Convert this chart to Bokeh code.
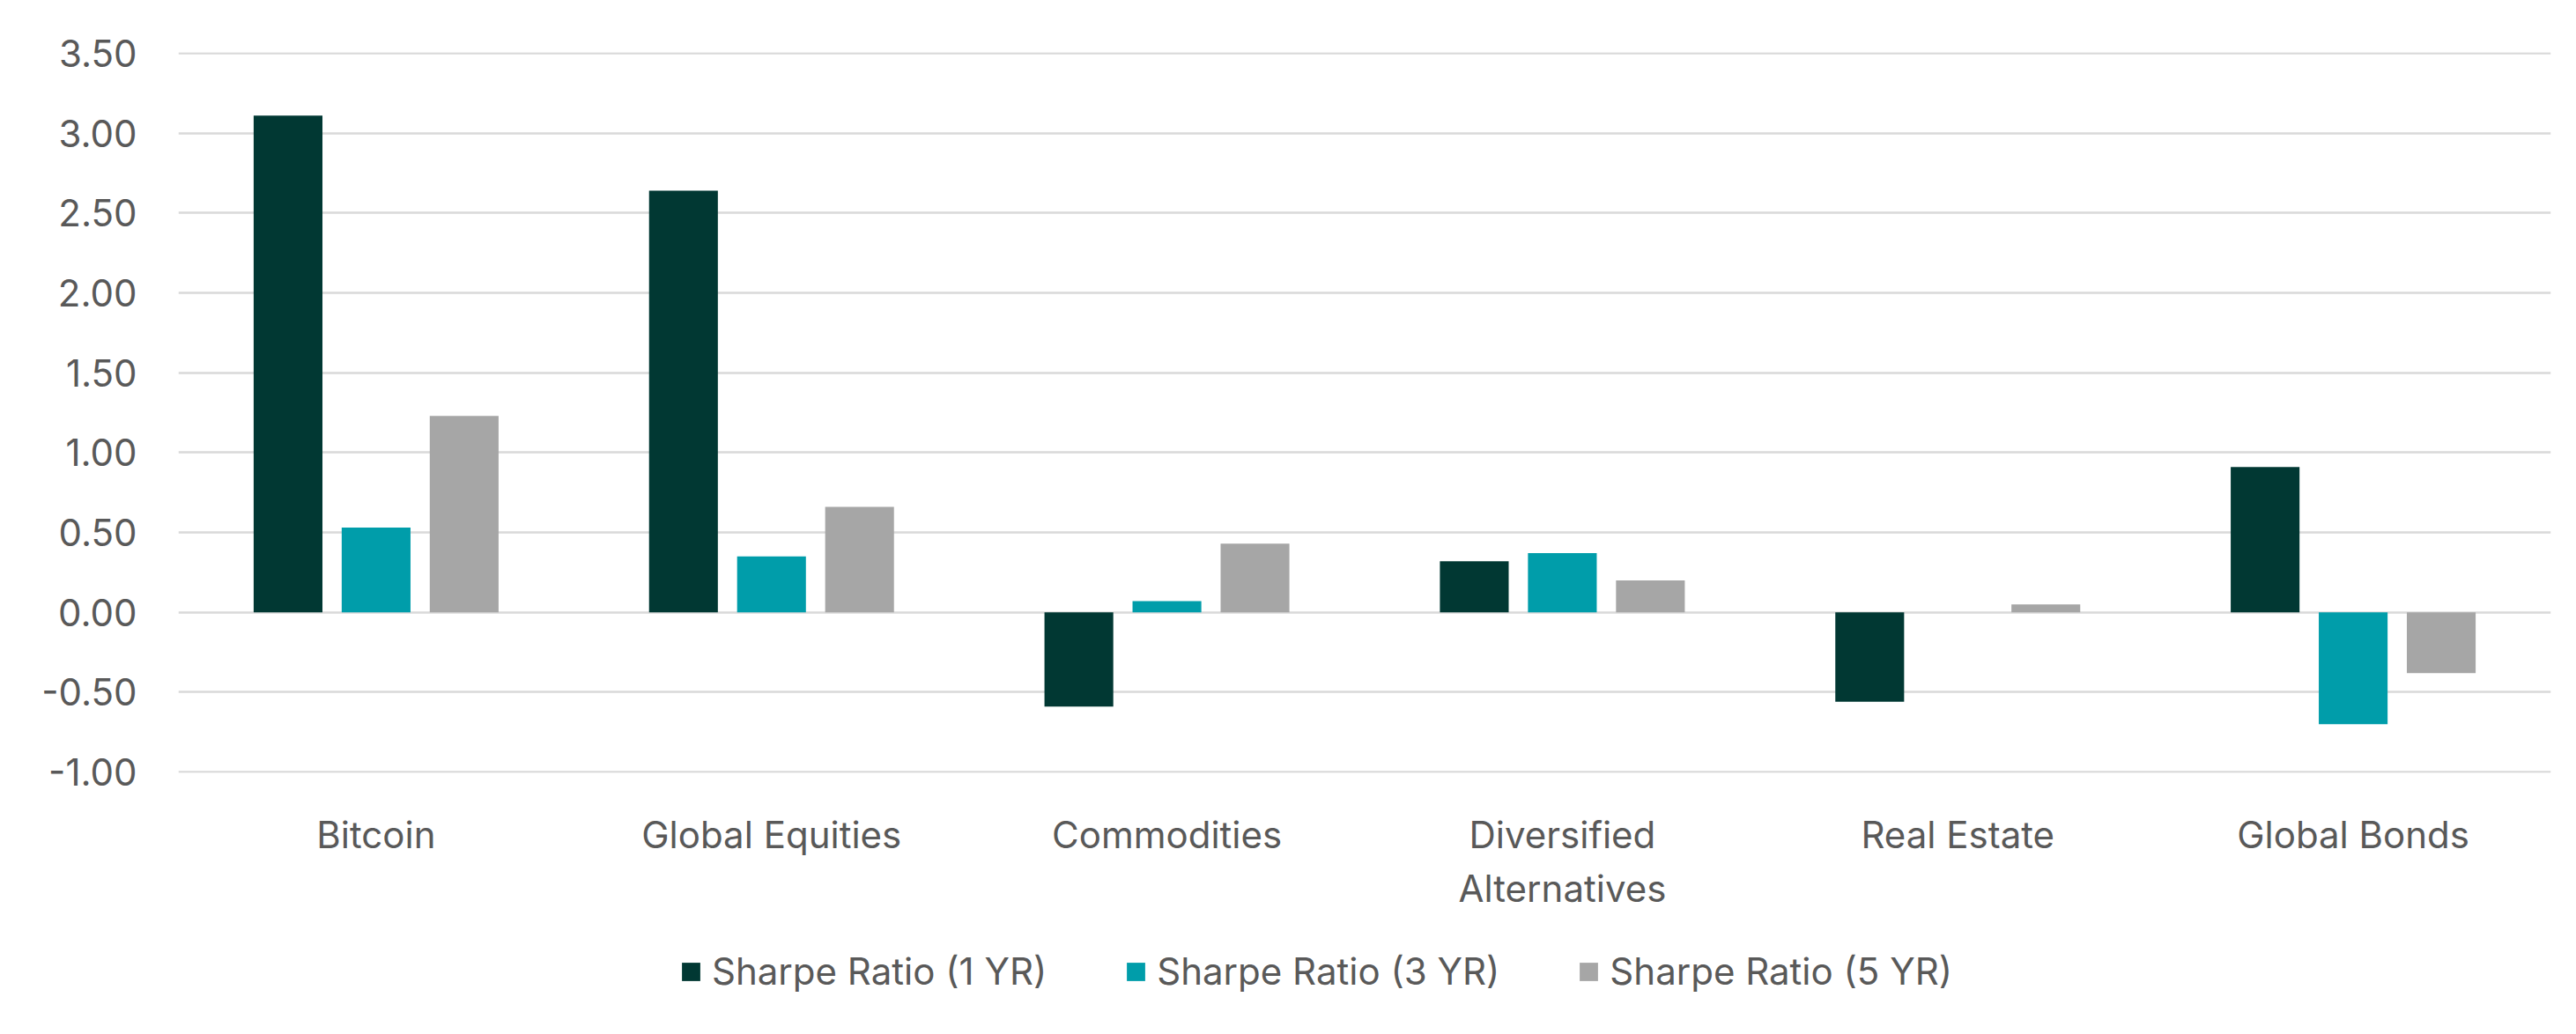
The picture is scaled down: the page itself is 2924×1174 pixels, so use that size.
from bokeh.plotting import figure
from bokeh.layouts import column
from bokeh.models import FactorRange, Range1d, FixedTicker, NumeralTickFormatter, Legend, LegendItem, ColumnDataSource
from bokeh.transform import dodge
from bokeh.embed import file_html
from bokeh.resources import INLINE

categories = ["Bitcoin", "Global Equities", "Commodities", "Diversified\nAlternatives", "Real Estate", "Global Bonds"]
sharpe_1yr = [3.11, 2.64, -0.59, 0.32, -0.56, 0.91]
sharpe_3yr = [0.53, 0.35, 0.07, 0.37, 0.00, -0.70]
sharpe_5yr = [1.23, 0.66, 0.43, 0.20, 0.05, -0.38]
series_names = ["Sharpe Ratio (1 YR)", "Sharpe Ratio (3 YR)", "Sharpe Ratio (5 YR)"]
y_ticks = [-1.0, -0.5, 0.0, 0.5, 1.0, 1.5, 2.0, 2.5, 3.0, 3.5]

colors = ["#013833", "#009DAA", "#A6A6A6"]
FONT = "Inter"
TXT = "#595959"

source = ColumnDataSource(dict(cat=categories, s1=sharpe_1yr, s3=sharpe_3yr, s5=sharpe_5yr))
cols = ["s1", "s3", "s5"]
offsets = [-0.2227, 0.0, 0.2227]

p = figure(
    x_range=FactorRange(*categories, range_padding=0),
    y_range=Range1d(-1.005, 3.505),
    frame_width=2693, frame_height=818,
    min_border_left=202, min_border_right=21, min_border_top=59, min_border_bottom=160,
    output_backend="svg", toolbar_location=None,
)

for col, off, c in zip(cols, offsets, colors):
    p.vbar(x=dodge("cat", off, range=p.x_range), top=col, bottom=0, width=0.174,
           source=source, fill_color=c, line_color=None)

p.xgrid.visible = False
p.ygrid.grid_line_color = "#D9D9D9"
p.ygrid.grid_line_width = 2.5
p.ygrid.ticker = FixedTicker(ticks=y_ticks)
p.outline_line_color = None
p.background_fill_color = "white"
p.border_fill_color = "white"

p.yaxis.ticker = FixedTicker(ticks=y_ticks)
p.yaxis.formatter = NumeralTickFormatter(format="0.00")
for ax in [p.xaxis[0], p.yaxis[0]]:
    ax.axis_line_color = None
    ax.major_tick_line_color = None
    ax.minor_tick_line_color = None
    ax.major_tick_out = 0
    ax.major_tick_in = 0
    ax.minor_tick_out = 0
    ax.major_label_text_font = FONT
    ax.major_label_text_font_size = "42px"
    ax.major_label_text_color = TXT
p.yaxis.major_label_standoff = 47
p.xaxis.major_label_standoff = 44

# legend strip below the chart (same series, plotted out of view so only the legend shows)
lf = figure(width=2916, height=129,
            x_range=FactorRange(*categories, range_padding=0), y_range=Range1d(100, 101),
            min_border=0, x_axis_location=None, y_axis_location=None,
            output_backend="svg", toolbar_location=None)
lf.grid.visible = False
lf.outline_line_color = None
lf.background_fill_color = "white"
lf.border_fill_color = "white"
items = []
for n, col, off, c in zip(series_names, cols, offsets, colors):
    r = lf.vbar(x=dodge("cat", off, range=lf.x_range), top=col, bottom=0, width=0.174,
                source=source, fill_color=c, line_color=None)
    items.append(LegendItem(label=n, renderers=[r]))
legend = Legend(items=items, orientation="horizontal", location=(569, 38),
                glyph_width=26, glyph_height=26, label_standoff=11, spacing=88,
                padding=0, margin=0, border_line_alpha=0, background_fill_alpha=0,
                label_text_font=FONT, label_text_font_size="42px", label_text_color=TXT)
lf.add_layout(legend)

layout = column(p, lf, spacing=0)
open("out.html", "w").write(file_html(layout, INLINE))
